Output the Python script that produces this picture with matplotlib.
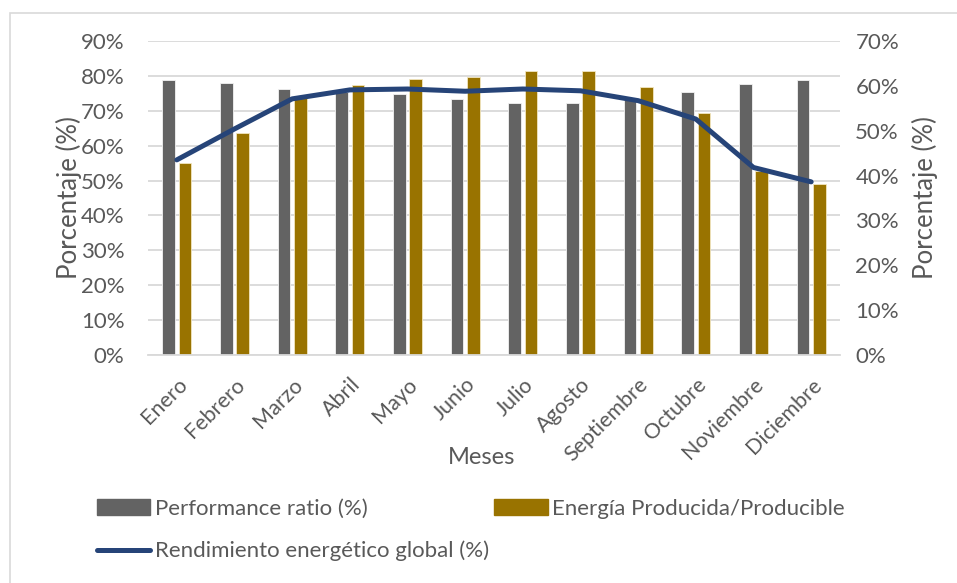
import matplotlib
matplotlib.use("Agg")
import matplotlib.pyplot as plt
import numpy as np
from matplotlib.lines import Line2D
from matplotlib.patches import Patch, Rectangle
from matplotlib.ticker import PercentFormatter

plt.rcParams["font.family"] = ["Lato", "DejaVu Sans"]

meses = ["Enero", "Febrero", "Marzo", "Abril", "Mayo", "Junio", "Julio",
         "Agosto", "Septiembre", "Octubre", "Noviembre", "Diciembre"]
performance_ratio = [78.7, 78.0, 76.3, 75.5, 74.8, 73.3, 72.3, 72.3, 73.1, 75.4, 77.8, 78.7]
energia_ratio = [55.0, 63.6, 74.2, 77.4, 79.0, 79.8, 81.5, 81.4, 76.8, 69.4, 52.6, 48.9]
rendimiento_global = [43.5, 50.4, 57.1, 59.1, 59.3, 58.8, 59.3, 58.9, 56.7, 52.6, 41.8, 38.6]

GRAY = "#636363"
GOLD = "#997300"
BLUE = "#264478"
TEXT = "#595959"
GRID = "#D9D9D9"

W, H = 957, 583
fig = plt.figure(figsize=(W / 100, H / 100), dpi=100)
fig.patch.set_facecolor("white")

# plot area in pixels: x 148..840, y 41..355
ax = fig.add_axes([148 / W, 1 - 355 / H, (840 - 148) / W, (355 - 41) / H])
ax2 = ax.twinx()

x = np.arange(len(meses))
bw = 0.215
ax.bar(x - 0.142, performance_ratio, bw, color=GRAY, edgecolor="#f2f2f2", linewidth=0.6, zorder=2)
ax.bar(x + 0.142, energia_ratio, bw, color=GOLD, edgecolor="#f2e6c0", linewidth=0.6, zorder=2)
ax2.plot(x, rendimiento_global, color=BLUE, lw=3.6, solid_capstyle="round",
         solid_joinstyle="round", zorder=3)

ax.set_xlim(-0.5, len(meses) - 0.5)
ax.set_ylim(0, 90)
ax2.set_ylim(0, 70)
ax.set_yticks(np.arange(0, 91, 10))
ax2.set_yticks(np.arange(0, 71, 10))
ax.yaxis.set_major_formatter(PercentFormatter(decimals=0))
ax2.yaxis.set_major_formatter(PercentFormatter(decimals=0))
ax.grid(axis="y", color=GRID, lw=1.3, zorder=0)
ax.set_axisbelow(True)

for a in (ax, ax2):
    for s in a.spines.values():
        s.set_visible(False)
    a.tick_params(length=0, labelsize=16, labelcolor=TEXT)
ax.spines["bottom"].set_visible(True)
ax.spines["bottom"].set_color(GRID)
ax.spines["bottom"].set_linewidth(1.3)
ax.tick_params(axis="y", pad=17)
ax2.tick_params(axis="y", pad=11)

ax.set_xticks(x)
ax.set_xticklabels(meses, rotation=45, ha="right", rotation_mode="anchor", fontsize=15.5)
ax.tick_params(axis="x", pad=14)

ax.set_ylabel("Porcentaje (%)", fontsize=18.5, color=TEXT, labelpad=-1)
ax2.set_ylabel("Porcentaje (%)", fontsize=18.5, color=TEXT, rotation=90, labelpad=9)
fig.text(482 / W, 1 - 458 / H, "Meses", fontsize=17, color=TEXT, ha="center", va="center")

# ax2 on top of ax means line drawn above bars
ax2.set_zorder(ax.get_zorder() + 1)
ax2.patch.set_visible(False)

handles = [Patch(color=GRAY), Patch(color=GOLD), Line2D([], [], color=BLUE, lw=3.6, solid_capstyle="round")]
labels = ["Performance ratio (%)", "Energía Producida/Producible", "Rendimiento energético global (%)"]
fig.legend(handles[:2], labels[:2], loc="center left", bbox_to_anchor=(77 / W, 1 - 509 / H),
           ncol=2, frameon=False, fontsize=16, labelcolor=TEXT, handlelength=2.4, handleheight=0.7,
           handletextpad=0.2, columnspacing=5.7)
fig.legend(handles[2:], labels[2:], loc="center left", bbox_to_anchor=(77 / W, 1 - 551 / H),
           frameon=False, fontsize=16, labelcolor=TEXT, handlelength=2.4, handletextpad=0.2)

fig.patches.append(Rectangle((10 / W, -0.1), 1.1, 1 - 13 / H + 0.1, transform=fig.transFigure,
                             fill=False, edgecolor=GRID, lw=1.2))

fig.savefig("out.png", dpi=100)
